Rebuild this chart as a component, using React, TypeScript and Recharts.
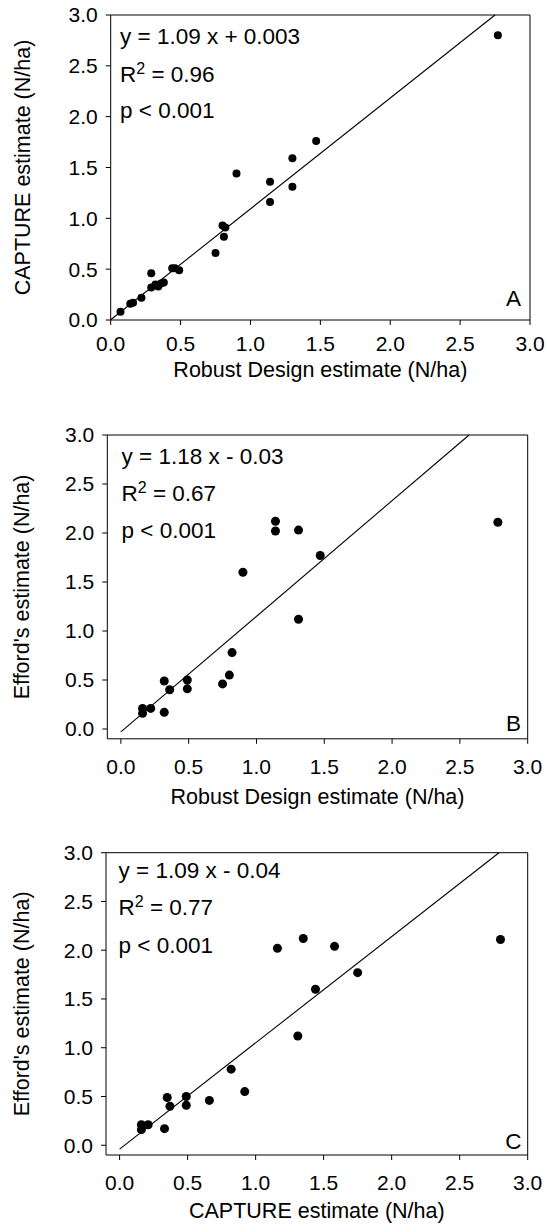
import React from 'react';
import { ScatterChart, Scatter, XAxis, YAxis, ReferenceLine, Customized } from 'recharts';

const FONT = '"Liberation Sans", Arial, Helvetica, sans-serif';

const axisTicks = [0, 0.5, 1, 1.5, 2, 2.5, 3];

// Panel A: Robust Design (x) vs CAPTURE (y)
const robustA = [0.07, 0.14, 0.16, 0.22, 0.29, 0.29, 0.32, 0.34, 0.36, 0.38, 0.44, 0.46, 0.49, 0.75, 0.80, 0.82, 0.81, 0.90, 1.14, 1.14, 1.30, 1.30, 1.47, 2.77];
const captureA = [0.08, 0.16, 0.17, 0.22, 0.46, 0.32, 0.35, 0.33, 0.36, 0.37, 0.51, 0.51, 0.49, 0.66, 0.93, 0.91, 0.82, 1.44, 1.36, 1.16, 1.59, 1.31, 1.76, 2.80];

// Panel B: Robust Design (x) vs Efford (y)
const robustB = [0.16, 0.16, 0.22, 0.32, 0.32, 0.36, 0.49, 0.49, 0.75, 0.80, 0.82, 0.90, 1.14, 1.14, 1.31, 1.31, 1.47, 2.78];
const effordB = [0.21, 0.16, 0.21, 0.49, 0.17, 0.40, 0.50, 0.41, 0.46, 0.55, 0.78, 1.60, 2.12, 2.02, 2.03, 1.12, 1.77, 2.11];

// Panel C: CAPTURE (x) vs Efford (y)
const captureC = [0.16, 0.16, 0.21, 0.33, 0.35, 0.37, 0.49, 0.49, 0.66, 0.82, 0.92, 1.16, 1.35, 1.31, 1.44, 1.58, 1.75, 2.80];
const effordC = [0.21, 0.16, 0.21, 0.17, 0.49, 0.40, 0.50, 0.41, 0.46, 0.78, 0.55, 2.02, 2.12, 1.12, 1.60, 2.04, 1.77, 2.11];

// Regression fits: slope, intercept
const fitA = [1.09, 0.003];
const fitB = [1.18, -0.03];
const fitC = [1.09, -0.04];

const equations = ['y = 1.09 x + 0.003', 'y = 1.18 x - 0.03', 'y = 1.09 x - 0.04'];
const r2Values = ['0.96', '0.67', '0.77'];
const pValues = ['p < 0.001', 'p < 0.001', 'p < 0.001'];
const panelLetters = ['A', 'B', 'C'];
const xTitles = ['Robust Design estimate (N/ha)', 'Robust Design estimate (N/ha)', 'CAPTURE estimate (N/ha)'];
const yTitles = ['CAPTURE estimate (N/ha)', "Efford's estimate (N/ha)", "Efford's estimate (N/ha)"];

type PanelProps = {
  idx: number;
  top: number;
  height: number;
  margin: { top: number; right: number; bottom: number; left: number };
  yAxisWidth: number;
  axisMin: number;
  xs: number[];
  ys: number[];
  fit: number[];
  dotR: number;
  xTickMargin: number;
  textX: number;
  textY: number[];
  letterX: number;
  letterY: number;
  xTitleY: number;
  yTitleX: number;
};

function Panel(p: PanelProps) {
  const data = p.xs.map((x, i) => ({ x, y: p.ys[i] }));
  const [m, b] = p.fit;
  const xEnd = (3 - b) / m;
  const tickStyle = { fontSize: 21, fill: '#000', fontFamily: FONT };
  const i = p.idx;
  const plotLeft = p.margin.left + p.yAxisWidth;
  const plotRight = 547 - p.margin.right;
  const plotTop = p.margin.top;
  const plotBottom = p.height - p.margin.bottom - 60;
  const cx = (plotLeft + plotRight) / 2;
  const cy = (plotTop + plotBottom) / 2;
  return (
    <div style={{ position: 'absolute', left: 0, top: p.top }}>
      <ScatterChart width={547} height={p.height} margin={p.margin}>
        <XAxis
          type="number"
          dataKey="x"
          domain={[p.axisMin, 3]}
          ticks={axisTicks}
          allowDataOverflow
          tickFormatter={(v: number) => v.toFixed(1)}
          tick={tickStyle}
          tickSize={5}
          tickMargin={p.xTickMargin}
          axisLine={{ stroke: '#000' }}
          tickLine={{ stroke: '#000' }}
          height={60}
        />
        <YAxis
          type="number"
          dataKey="y"
          domain={[p.axisMin, 3]}
          ticks={axisTicks}
          allowDataOverflow
          tickFormatter={(v: number) => v.toFixed(1)}
          tick={tickStyle}
          tickSize={5}
          tickMargin={8}
          axisLine={{ stroke: '#000' }}
          tickLine={{ stroke: '#000' }}
          width={p.yAxisWidth}
        />
        <ReferenceLine y={3} stroke="#000" strokeWidth={1} ifOverflow="visible" />
        <ReferenceLine x={3} stroke="#000" strokeWidth={1} ifOverflow="visible" />
        <ReferenceLine
          segment={[{ x: 0, y: b }, { x: xEnd, y: 3 }]}
          stroke="#000"
          strokeWidth={1.1}
          ifOverflow="visible"
        />
        <Scatter
          data={data}
          isAnimationActive={false}
          shape={(s: any) => <circle cx={s.cx} cy={s.cy} r={p.dotR} fill="#000" />}
        />
        <Customized
          component={() => (
            <g style={{ fontFamily: FONT, fill: '#000' }}>
              <text x={p.textX} y={p.textY[0]} fontSize={22.5} fill="#000">{equations[i]}</text>
              <text x={p.textX} y={p.textY[1]} fontSize={22.5} fill="#000">
                <tspan>R</tspan>
                <tspan dy={-8} fontSize={16}>2</tspan>
                <tspan dy={8}>{' = ' + r2Values[i]}</tspan>
              </text>
              <text x={p.textX} y={p.textY[2]} fontSize={22.5} fill="#000">{pValues[i]}</text>
              <text x={p.letterX} y={p.letterY} fontSize={22.5} textAnchor="end" fill="#000">{panelLetters[i]}</text>
              <text x={cx} y={p.xTitleY} fontSize={21.5} textAnchor="middle" fill="#000">{xTitles[i]}</text>
              <text
                x={p.yTitleX}
                y={cy}
                fontSize={21.5}
                textAnchor="middle"
                fill="#000"
                transform={`rotate(-90 ${p.yTitleX} ${cy})`}
              >
                {yTitles[i]}
              </text>
            </g>
          )}
        />
      </ScatterChart>
    </div>
  );
}

export default function App() {
  return (
    <div style={{ position: 'absolute', left: 0, top: 0, width: 547, height: 1232, background: '#fff' }}>
      <Panel
        idx={0}
        top={0}
        height={400}
        margin={{ top: 15, right: 17, bottom: 20, left: 0 }}
        yAxisWidth={110.7}
        axisMin={0}
        xs={robustA}
        ys={captureA}
        fit={fitA}
        dotR={4}
        xTickMargin={11}
        textX={120}
        textY={[44, 82, 118]}
        letterX={521}
        letterY={306}
        xTitleY={377}
        yTitleX={30}
      />
      <Panel
        idx={1}
        top={420}
        height={400}
        margin={{ top: 15, right: 19.3, bottom: 21.2, left: 0 }}
        yAxisWidth={107.3}
        axisMin={-0.1}
        xs={robustB}
        ys={effordB}
        fit={fitB}
        dotR={4.5}
        xTickMargin={15}
        textX={121.5}
        textY={[43.5, 81, 117.5]}
        letterX={521}
        letterY={311}
        xTitleY={384}
        yTitleX={29}
      />
      <Panel
        idx={2}
        top={838}
        height={394}
        margin={{ top: 14.7, right: 19.3, bottom: 17, left: 0 }}
        yAxisWidth={106}
        axisMin={-0.1}
        xs={captureC}
        ys={effordC}
        fit={fitC}
        dotR={4.5}
        xTickMargin={15}
        textX={118.5}
        textY={[39.5, 77, 114.5]}
        letterX={521.5}
        letterY={311}
        xTitleY={380}
        yTitleX={29}
      />
    </div>
  );
}
